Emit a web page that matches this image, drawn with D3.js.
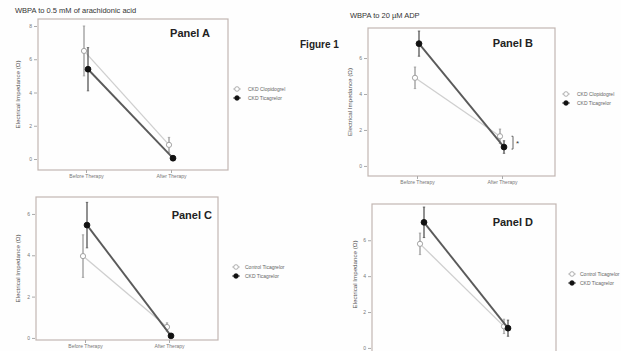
<!DOCTYPE html>
<html><head><meta charset="utf-8">
<script src="https://cdn.jsdelivr.net/npm/d3@7/dist/d3.min.js"></script>
<style>body{margin:0;background:#fff;}svg{display:block;font-family:"Liberation Sans",Arial,sans-serif;}</style>
</head><body>
<svg id="c" width="621" height="351"></svg>
<script>
// ---- data ----
const categories = ["Before Therapy", "After Therapy"];
const panelNames = ["Panel A", "Panel B", "Panel C", "Panel D"];
const panelTitles = ["WBPA to 0.5 mM of arachidonic acid", "WBPA to 20 µM ADP", "", ""];
const openSeriesNames = ["CKD Clopidogrel", "CKD Clopidogrel", "Control Ticagrelor", "Control Ticagrelor"];
const filledSeriesNames = ["CKD Ticagrelor", "CKD Ticagrelor", "CKD Ticagrelor", "CKD Ticagrelor"];
const openMeans = [[6.5, 0.85], [4.9, 1.65], [3.96, 0.53], [5.8, 1.2]];
const openErr = [[1.5, 0.45], [0.6, 0.4], [1.03, 0.2], [0.6, 0.4]];
const filledMeans = [[5.4, 0.05], [6.8, 1.05], [5.46, 0.1], [7.0, 1.1]];
const filledErr = [[1.3, 0.15], [0.7, 0.35], [1.1, 0.1], [0.85, 0.45]];
const yTicks = [[0, 2, 4, 6, 8], [0, 2, 4, 6], [0, 2, 4, 6], [0, 2, 4, 6]];
const yDomains = [[-0.66, 8.42], [-0.56, 7.67], [-0.1, 6.82], [-0.45, 8.02]];
const yTitle = "Electrical Impedance (Ω)";

// ---- layout ----
const frames = [
  {l: 38, t: 19, r: 228, b: 170, xb: 86, xa: 171, leg: [237, 89, 248], ttl: [15, 13], plx: 210, ply: 37, ytx: 20, xl: true},
  {l: 368, t: 28, r: 555, b: 176, xb: 417, xa: 502, leg: [566, 94, 577], ttl: [350, 18], plx: 533, ply: 47, ytx: 352, xl: true},
  {l: 36, t: 197, r: 218, b: 340, xb: 85, xa: 169, leg: [236, 267, 245], ttl: null, plx: 212, ply: 219, ytx: 20, xl: true},
  {l: 372, t: 204, r: 556, b: 356, xb: 422, xa: 506, leg: [572, 274, 580], ttl: null, plx: 533, ply: 226, ytx: 357, xl: false}
];

const svg = d3.select("#c");
svg.append("rect").attr("width", 621).attr("height", 351).attr("fill", "#fefefe");

svg.append("text").attr("x", 300).attr("y", 48).attr("font-size", 10).attr("font-weight", "bold")
  .attr("fill", "#222").text("Figure 1");

frames.forEach((f, i) => {
  const g = svg.append("g");
  const x = d3.scalePoint().domain(categories).range([f.xb, f.xa]);
  const y = d3.scaleLinear().domain(yDomains[i]).range([f.b, f.t]);

  g.append("rect").attr("x", f.l).attr("y", f.t).attr("width", f.r - f.l).attr("height", f.b - f.t)
    .attr("fill", "none").attr("stroke", "#c2b6b2").attr("stroke-width", 1.2);

  // y axis
  const ya = d3.axisLeft(y).tickValues(yTicks[i]).tickSize(3).tickPadding(2).tickFormat(d3.format("d"));
  const yg = g.append("g").attr("transform", `translate(${f.l - 1},0)`).call(ya);
  yg.select(".domain").remove();
  yg.selectAll("line").attr("stroke", "#aaa");
  yg.selectAll("text").attr("font-size", 5).attr("fill", "#777").attr("font-family", "Liberation Sans, Arial");

  // x axis
  if (f.xl) {
    const xa = d3.axisBottom(x).tickSize(3).tickPadding(1);
    const xg = g.append("g").attr("transform", `translate(0,${f.b})`).call(xa);
    xg.select(".domain").remove();
    xg.selectAll("line").attr("stroke", "#aaa");
    xg.selectAll("text").attr("font-size", 5).attr("fill", "#777").attr("font-family", "Liberation Sans, Arial");
  }

  // y title
  g.append("text").attr("transform", `translate(${f.ytx},${(f.t + Math.min(f.b, 345)) / 2}) rotate(-90)`)
    .attr("text-anchor", "middle").attr("font-size", 6.2).attr("fill", "#555").text(yTitle);

  if (panelTitles[i]) {
    g.append("text").attr("x", f.ttl[0]).attr("y", f.ttl[1]).attr("font-size", 7.5).attr("fill", "#333").text(panelTitles[i]);
  }
  g.append("text").attr("x", f.plx).attr("y", f.ply).attr("text-anchor", "end").attr("font-size", 11)
    .attr("font-weight", "bold").attr("fill", "#222").text(panelNames[i]);

  const series = [
    {means: openMeans[i], err: openErr[i], dx: -2, line: "#cfcfcf", lw: 1.3, ec: "#9a9a9a", fill: "#fff", stroke: "#999"},
    {means: filledMeans[i], err: filledErr[i], dx: 2, line: "#5a5a5a", lw: 1.9, ec: "#555", fill: "#111", stroke: "#111"}
  ];
  series.forEach(s => {
    const pts = categories.map((c, k) => ({x: x(c) + s.dx, v: s.means[k], e: s.err[k]}));
    g.append("path").datum(pts).attr("fill", "none").attr("stroke", s.line).attr("stroke-width", s.lw)
      .attr("d", d3.line().x(d => d.x).y(d => y(d.v)));
    g.selectAll(null).data(pts).join("line")
      .attr("x1", d => d.x).attr("x2", d => d.x)
      .attr("y1", d => y(d.v + d.e)).attr("y2", d => y(d.v - d.e))
      .attr("stroke", s.ec).attr("stroke-width", 1.3);
    g.selectAll(null).data(pts).join("line")
      .attr("x1", d => d.x - 1.2).attr("x2", d => d.x + 1.2)
      .attr("y1", d => y(d.v + d.e)).attr("y2", d => y(d.v + d.e))
      .attr("stroke", s.ec).attr("stroke-width", 0.8);
    g.selectAll(null).data(pts).join("line")
      .attr("x1", d => d.x - 1.2).attr("x2", d => d.x + 1.2)
      .attr("y1", d => y(d.v - d.e)).attr("y2", d => y(d.v - d.e))
      .attr("stroke", s.ec).attr("stroke-width", 0.8);
    g.selectAll(null).data(pts).join("circle")
      .attr("cx", d => d.x).attr("cy", d => y(d.v)).attr("r", s.fill === "#fff" ? 2.6 : 2.9)
      .attr("fill", s.fill).attr("stroke", s.stroke).attr("stroke-width", 0.9);
  });

  // significance marker in panel B
  if (i === 1) {
    const bx = x(categories[1]) + 11;
    const yTop = y(openMeans[1][1]), yBot = y(filledMeans[1][1]) + 2;
    g.append("path").attr("d", `M${bx - 1.5},${yTop}H${bx}V${yBot}H${bx - 1.5}`)
      .attr("fill", "none").attr("stroke", "#555").attr("stroke-width", 0.9);
    g.append("text").attr("x", bx + 3).attr("y", (yTop + yBot) / 2 + 3.5).attr("font-size", 8)
      .attr("fill", "#333").text("*");
  }

  // legend
  const lg = g.append("g").attr("transform", `translate(${f.leg[0]},${f.leg[1]})`);
  [[openSeriesNames[i], "#fff", "#999", "#c4c4c4"], [filledSeriesNames[i], "#111", "#111", "#555"]].forEach((d, k) => {
    const row = lg.append("g").attr("transform", `translate(0,${k * 9})`);
    row.append("line").attr("x1", -4).attr("x2", 4).attr("stroke", d[3]).attr("stroke-width", 1);
    row.append("circle").attr("r", 2.3).attr("fill", d[1]).attr("stroke", d[2]).attr("stroke-width", 0.8);
    row.append("text").attr("x", f.leg[2] - f.leg[0]).attr("y", 2).attr("font-size", 5)
      .attr("fill", "#666").text(d[0]);
  });
});
</script>
</body></html>
